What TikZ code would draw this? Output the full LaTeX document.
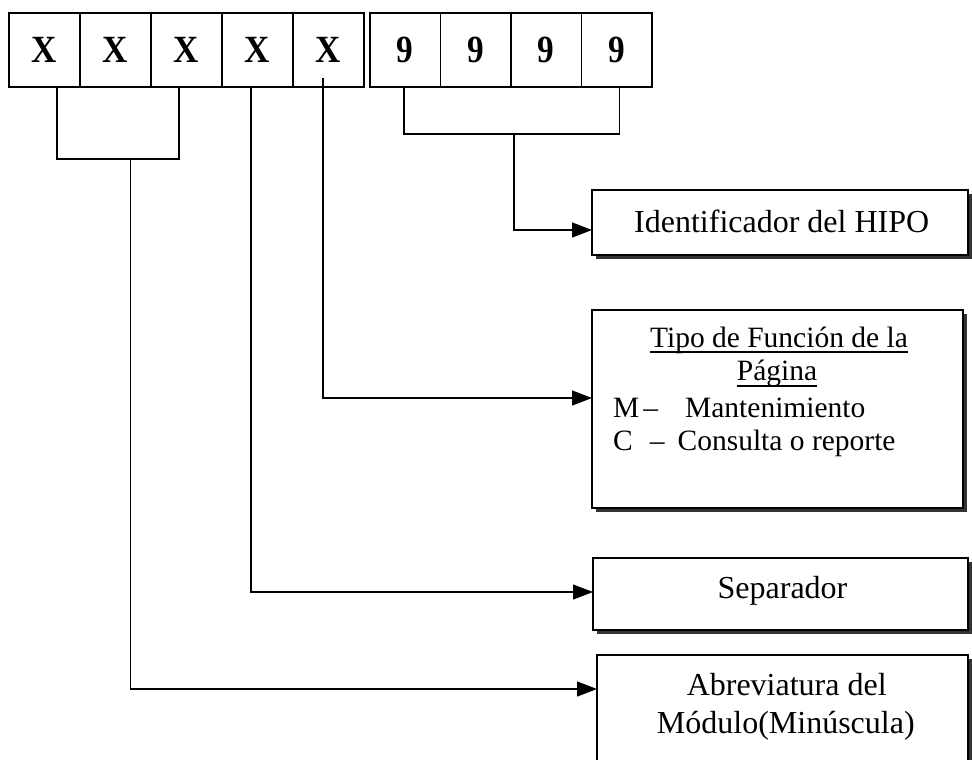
\documentclass[tikz,border=0pt]{standalone}
\usepackage{fontspec}
\setmainfont{Liberation Serif}
\usetikzlibrary{arrows.meta,shadows}
\begin{document}
\begin{tikzpicture}[x=1pt,y=-1pt,
  cell/.style={draw, line width=1.3pt, minimum width=71pt, minimum height=74pt, inner sep=0pt, outer sep=0pt, anchor=north west, font=\fontsize{35}{40}\selectfont\bfseries},
  ncell/.style={cell, minimum width=70.5pt},
  infobox/.style={draw, fill=white, line width=1.3pt, anchor=north west, inner sep=0pt, outer sep=0pt,
    drop shadow={shadow xshift=4pt, shadow yshift=-4pt, fill=black!80, opacity=1}},
  lbl/.style={anchor=base, inner sep=0pt, font=\fontsize{32}{36}\selectfont},
  lbls/.style={anchor=base, inner sep=0pt, font=\fontsize{29.5}{34}\selectfont},
  lnk/.style={line width=1.3pt},
  uline/.style={line width=1.2pt},
  arr/.style={lnk, -{Triangle[length=20pt,width=15pt]}}
]
\useasboundingbox (0,0) rectangle (972,760);

% code cells
\node[cell] (x1) at (9,13) {\scalebox{1}[1.1]{X}};
\node[cell] (x2) at (x1.north east) {\scalebox{1}[1.1]{X}};
\node[cell] (x3) at (x2.north east) {\scalebox{1}[1.1]{X}};
\node[cell] (x4) at (x3.north east) {\scalebox{1}[1.1]{X}};
\node[cell] (x5) at (x4.north east) {\scalebox{1}[1.1]{X}};
\node[ncell] (n1) at (370,13) {\scalebox{0.95}[1.1]{9}};
\node[ncell] (n2) at (n1.north east) {\scalebox{0.95}[1.1]{9}};
\node[ncell] (n3) at (n2.north east) {\scalebox{0.95}[1.1]{9}};
\node[ncell] (n4) at (n3.north east) {\scalebox{0.95}[1.1]{9}};

% right boxes
\node[infobox, minimum width=376pt, minimum height=65pt] (hipo) at (592,190) {};
\node[infobox, minimum width=371pt, minimum height=198pt] (tipo) at (592,310) {};
\node[infobox, minimum width=375pt, minimum height=72pt] (sep) at (593,558) {};
\node[infobox, minimum width=371pt, minimum height=120pt] (abr) at (597,655) {};

% texts
\node[lbl] (thipo) at (781.7,232) {Identificador del HIPO};
\node[lbls] (t1) at (779,347) {Tipo de Función de la};
\node[lbls] (t2) at (777,380) {Página};
\draw[uline] ([yshift=-5pt]t1.base west) -- ([yshift=-5pt]t1.base east);
\draw[uline] ([yshift=-6pt]t2.base west) -- ([yshift=-6pt]t2.base east);
\node[lbls, anchor=base west] (t3) at (613,417) {M\hspace{4pt}–\hspace{27pt}Mantenimiento};
\node[lbls, anchor=base west] (t4) at (613,450) {C\hspace{17pt}–\hspace{13pt}Consulta o reporte};
\node[lbl] (tsep) at (782.5,598) {Separador};
\node[lbl] (ta1) at (786.7,695) {Abreviatura del};
\node[lbl] (ta2) at (785.8,733) {Módulo(Minúscula)};

% bracket points and arrow targets
\coordinate (xbl) at (57,87);
\coordinate (xbr) at (179,87);
\coordinate (xbc) at (130.5,159);
\coordinate (nbl) at (404,87);
\coordinate (nbr) at (619.5,87);
\coordinate (nbc) at (514,134);
\coordinate (x4s) at (251,87);
\coordinate (x5s) at (323,78);
\coordinate (hipoin) at (592,230);
\coordinate (tipoin) at (592,398);
\coordinate (sepin) at (593,592);
\coordinate (abrin) at (597,689);

% brackets
\draw[lnk] (xbl) |- (xbc) -| (xbr);
\draw[lnk] (nbl) |- (nbc) -| (nbr);

% connectors
\draw[arr] (nbc) |- (hipoin);
\draw[arr] (x5s) |- (tipoin);
\draw[arr] (x4s) |- (sepin);
\draw[arr] (xbc) |- (abrin);
\end{tikzpicture}
\end{document}
